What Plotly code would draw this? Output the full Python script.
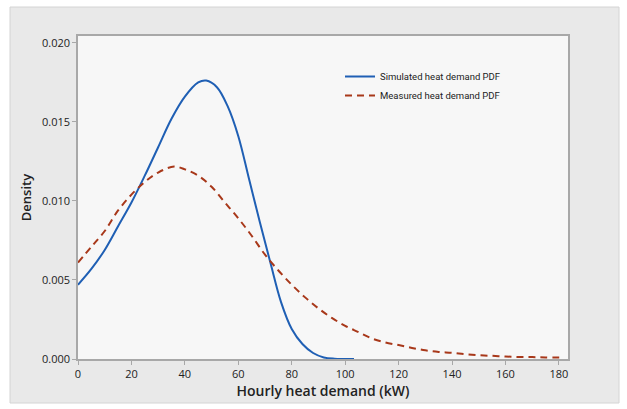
import plotly.graph_objects as go

# Simulated heat demand PDF (blue solid)
sim_x = [0, 5, 10, 15, 20, 25, 30, 35, 40, 45, 48, 52, 56, 60, 64, 68, 72, 76, 80, 84, 88, 92, 96, 103.3]
sim_y = [0.0047, 0.0057, 0.0069, 0.0084, 0.0099, 0.0116, 0.0134, 0.0152, 0.0166, 0.0175, 0.01762, 0.0172, 0.0160, 0.0141, 0.0114, 0.0087, 0.0061, 0.0036, 0.0019, 0.00095, 0.00038, 0.0001, 0.00002, 0.0]

# Measured heat demand PDF (red dashed)
mea_x = [0, 5, 10, 15, 20, 25, 30, 36, 40, 45, 50, 55, 60, 65, 70, 75, 80, 85, 90, 95, 100, 105, 110, 115, 120, 125, 130, 135, 140, 145, 150, 155, 160, 165, 170, 175, 181]
mea_y = [0.0061, 0.0071, 0.0081, 0.0094, 0.0104, 0.0112, 0.0118, 0.01218, 0.0120, 0.0116, 0.0109, 0.0099, 0.0089, 0.0078, 0.0066, 0.0056, 0.0047, 0.0039, 0.0032, 0.0026, 0.0021, 0.0017, 0.0013, 0.00105, 0.00088, 0.0007, 0.00055, 0.00045, 0.00039, 0.0003, 0.00024, 0.0002, 0.00016, 0.00013, 0.00012, 0.0001, 0.0001]

x_ticks = [0, 20, 40, 60, 80, 100, 120, 140, 160, 180]
y_ticks = [0.000, 0.005, 0.010, 0.015, 0.020]

FONT = "Open Sans"

fig = go.Figure()
fig.add_trace(go.Scatter(x=sim_x, y=sim_y, mode="lines", name="Simulated heat demand PDF",
                         line=dict(color="#1f5fb4", width=2, shape="spline", smoothing=1.0)))
fig.add_trace(go.Scatter(x=mea_x, y=mea_y, mode="lines", name="Measured heat demand PDF",
                         line=dict(color="#a8381a", width=2, dash="7px,5px", shape="spline", smoothing=1.0)))

W, H = 627, 409
L, R, T, B = 78, 568, 36, 359
pw, ph = R - L, B - T

def px_x(p):
    return (p - L) / pw

def px_y(p):
    return (B - p) / ph

fig.add_shape(type="rect", xref="paper", yref="paper",
              x0=px_x(10), x1=px_x(619), y0=px_y(403), y1=px_y(7),
              fillcolor="#e9e9e9", line=dict(color="#d4d4d4", width=1), layer="below")
fig.add_shape(type="rect", xref="paper", yref="paper",
              x0=0, x1=1, y0=0, y1=1,
              fillcolor="#f7f7f7", line=dict(width=0), layer="below")

axis_common = dict(showgrid=False, zeroline=False, showline=True, mirror=True, automargin=False,
                   linecolor="#a8a8a8", linewidth=1.5, ticks="outside", ticklen=4,
                   tickcolor="#a8a8a8", tickfont=dict(family=FONT, size=11, color="#222222"))

fig.update_xaxes(range=[0, 183.4], tickvals=x_ticks, ticktext=[str(v) for v in x_ticks],
                 title=dict(text="Hourly heat demand (kW)", font=dict(family=FONT, size=14, color="#222222", weight=600), standoff=6),
                 **axis_common)
fig.update_yaxes(range=[0, 0.02044], tickvals=y_ticks, ticktext=[f"{v:.3f}" for v in y_ticks],
                 title=dict(text="Density", font=dict(family=FONT, size=13, color="#222222", weight=600), standoff=7),
                 **axis_common)

fig.update_layout(
    width=W, height=H,
    margin=dict(l=L, r=W - R, t=T, b=H - B),
    paper_bgcolor="white", plot_bgcolor="#f7f7f7",
    showlegend=True,
    legend=dict(x=px_x(340), y=px_y(62), xanchor="left", yanchor="top",
                bgcolor="rgba(0,0,0,0)", font=dict(family="Roboto", size=9.5, color="#222222"),
                tracegroupgap=0, itemwidth=30),
)

fig.write_html("out.html", config={"displayModeBar": False},
               post_script="document.body.style.margin='0';document.body.style.overflow='hidden';")
